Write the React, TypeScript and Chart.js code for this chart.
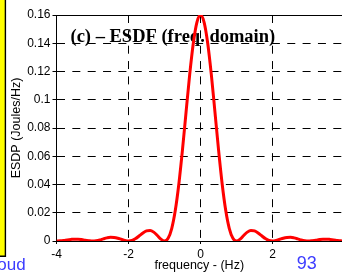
import React, { useEffect, useRef } from "react";
import { Chart, registerables } from "chart.js";

Chart.register(...registerables);

// ---- data ----
const freqHz = [
  -4, -3.9, -3.8, -3.7, -3.6, -3.5, -3.4, -3.3, -3.2, -3.1,
  -3, -2.9, -2.8, -2.7, -2.6, -2.5, -2.4, -2.3, -2.2, -2.1,
  -2, -1.9, -1.8, -1.7, -1.6, -1.5, -1.4, -1.3, -1.2, -1.1,
  -1, -0.9, -0.8, -0.7, -0.6, -0.5, -0.4, -0.3, -0.2, -0.1,
  0,
  0.1, 0.2, 0.3, 0.4, 0.5, 0.6, 0.7, 0.8, 0.9, 1,
  1.1, 1.2, 1.3, 1.4, 1.5, 1.6, 1.7, 1.8, 1.9, 2,
  2.1, 2.2, 2.3, 2.4, 2.5, 2.6, 2.7, 2.8, 2.9, 3,
  3.1, 3.2, 3.3, 3.4, 3.5, 3.6, 3.7, 3.8, 3.9, 4,
];

const esdpValues = [
  0, 0.0001, 0.0004, 0.0008, 0.0011, 0.0013, 0.0013, 0.001, 0.0005, 0.0002,
  0, 0.0002, 0.0007, 0.0015, 0.0022, 0.0026, 0.0025, 0.002, 0.0012, 0.0004,
  0, 0.0004, 0.0017, 0.0037, 0.0057, 0.0072, 0.0075, 0.0063, 0.0039, 0.0013,
  0, 0.0019, 0.0088, 0.0217, 0.0407, 0.0648, 0.0916, 0.1179, 0.14, 0.1548,
  0.16,
  0.1548, 0.14, 0.1179, 0.0916, 0.0648, 0.0407, 0.0217, 0.0088, 0.0019, 0,
  0.0013, 0.0039, 0.0063, 0.0075, 0.0072, 0.0057, 0.0037, 0.0017, 0.0004, 0,
  0.0004, 0.0012, 0.002, 0.0025, 0.0026, 0.0022, 0.0015, 0.0007, 0.0002, 0,
  0.0002, 0.0005, 0.001, 0.0013, 0.0013, 0.0011, 0.0008, 0.0004, 0.0001, 0,
];

const xTickValues = [-4, -2, 0, 2];
const xTickLabels = ["-4", "-2", "0", "2"];
const yTickValues = [0, 0.02, 0.04, 0.06, 0.08, 0.1, 0.12, 0.14, 0.16];
const yTickLabels = ["0", "0.02", "0.04", "0.06", "0.08", "0.1", "0.12", "0.14", "0.16"];

const chartTitle = "(c) \u2013 ESDF (freq. domain)";
const xAxisTitle = "frequency - (Hz)";
const yAxisTitle = "ESDP (Joules/Hz)";
const footerLeftText = "oud";
const pageNumberText = "93";

const SANS = '"Liberation Sans", Arial, sans-serif';
const SERIF = '"Liberation Serif", "Times New Roman", serif';

const decorPlugin = {
  id: "decor",
  beforeDatasetsDraw(chart: any) {
    const { ctx, chartArea } = chart;
    ctx.save();
    // solid top frame line
    ctx.strokeStyle = "#000";
    ctx.lineWidth = 1;
    const ty = Math.round(chartArea.top) + 0.5;
    ctx.beginPath();
    ctx.moveTo(chartArea.left, ty);
    ctx.lineTo(chartArea.right, ty);
    ctx.stroke();
    // in-plot title
    ctx.font = `bold 18.5px ${SERIF}`;
    ctx.fillStyle = "#000";
    ctx.textAlign = "left";
    ctx.textBaseline = "alphabetic";
    ctx.fillText(chartTitle, 70.5, 41.5);
    ctx.restore();
  },
  afterDraw(chart: any) {
    const { ctx } = chart;
    ctx.save();
    // yellow side panel
    ctx.fillStyle = "#ffff00";
    ctx.fillRect(0, 0, 5, 256);
    ctx.strokeStyle = "#000";
    ctx.lineWidth = 1.4;
    ctx.beginPath();
    ctx.moveTo(5.4, 0);
    ctx.lineTo(5.4, 256.3);
    ctx.lineTo(0, 256.3);
    ctx.stroke();
    // footer texts
    ctx.fillStyle = "#3c3cff";
    ctx.textBaseline = "alphabetic";
    ctx.textAlign = "left";
    ctx.font = `17px ${SANS}`;
    ctx.fillText(footerLeftText, -2.7, 270);
    ctx.font = `18px ${SANS}`;
    ctx.fillText(pageNumberText, 296.7, 269);
    ctx.restore();
  },
};

export default function App() {
  const canvasRef = useRef<HTMLCanvasElement | null>(null);

  useEffect(() => {
    const canvas = canvasRef.current;
    if (!canvas) return;
    const chart = new Chart(canvas, {
      type: "line",
      data: {
        datasets: [
          {
            data: freqHz.map((f, i) => ({ x: f, y: esdpValues[i] })),
            borderColor: "#ff0000",
            borderWidth: 3,
            pointRadius: 0,
            fill: false,
            cubicInterpolationMode: "monotone",
          },
        ],
      },
      options: {
        animation: false,
        responsive: false,
        devicePixelRatio: 1,
        layout: { padding: { left: 0, right: 0, top: 15, bottom: 0 } },
        plugins: {
          legend: { display: false },
          tooltip: { enabled: false },
          title: { display: false },
        },
        scales: {
          x: {
            type: "linear",
            min: -4,
            max: 3.93,
            afterBuildTicks: (s: any) => {
              s.ticks = xTickValues.map((v) => ({ value: v }));
            },
            afterFit: (s: any) => {
              s.height = 33;
              s.paddingLeft = 0;
              s.paddingRight = 0;
            },
            ticks: {
              autoSkip: false,
              maxRotation: 0,
              minRotation: 0,
              padding: 3,
              color: "#000",
              font: { family: SANS, size: 12 },
              callback: (_v: any, i: number) => xTickLabels[i],
            },
            grid: {
              color: "#000",
              lineWidth: 1,
              drawTicks: true,
              tickLength: 3,
            },
            border: { display: true, color: "#000", width: 1, dash: [8, 7.35] },
            title: {
              display: true,
              text: xAxisTitle,
              color: "#000",
              font: { family: SANS, size: 12.5 },
              padding: { top: 0, bottom: 0.6 },
            },
          },
          y: {
            type: "linear",
            min: 0,
            max: 0.16,
            afterBuildTicks: (s: any) => {
              s.ticks = yTickValues.map((v) => ({ value: v }));
            },
            afterFit: (s: any) => {
              s.width = 56.5;
              s.paddingTop = 0;
              s.paddingBottom = 0;
            },
            ticks: {
              autoSkip: false,
              padding: 2,
              color: "#000",
              font: { family: SANS, size: 12 },
              callback: (_v: any, i: number) => yTickLabels[i],
            },
            grid: {
              color: "#000",
              lineWidth: 1,
              drawTicks: true,
              tickLength: 4,
            },
            border: { display: true, color: "#000", width: 1, dash: [8, 7.35] },
            title: {
              display: true,
              text: yAxisTitle,
              color: "#000",
              font: { family: SANS, size: 12.5 },
              padding: { top: 9.5, bottom: 0 },
            },
          },
        },
      } as any,
      plugins: [decorPlugin],
    });
    return () => chart.destroy();
  }, []);

  return (
    <div
      style={{
        position: "fixed",
        left: 0,
        top: 0,
        width: 342,
        height: 274,
        background: "#fff",
        overflow: "hidden",
      }}
    >
      <canvas
        ref={canvasRef}
        width={342}
        height={274}
        style={{ display: "block", width: 342, height: 274 }}
      />
    </div>
  );
}
